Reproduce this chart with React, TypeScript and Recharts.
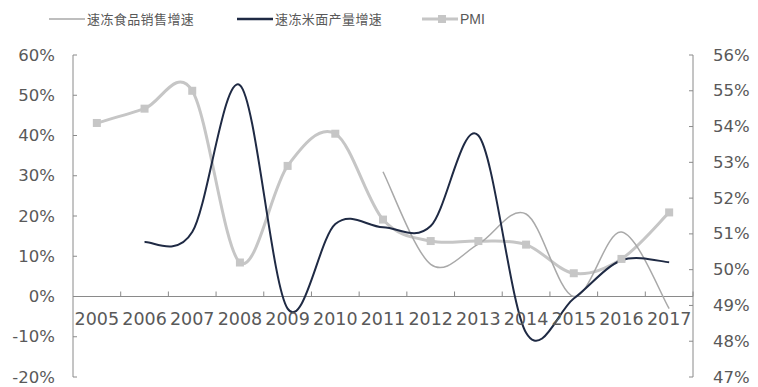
import React from 'react';
import { ComposedChart, Line, XAxis, YAxis, ReferenceLine } from 'recharts';

// data
const years = ['2005', '2006', '2007', '2008', '2009', '2010', '2011', '2012', '2013', '2014', '2015', '2016', '2017'];
const salesGrowth = [null, null, null, null, null, null, 31, 8, 13, 20.5, 0, 16, -3];
const outputGrowth = [null, 13.5, 16, 52.5, -3, 18, 17.2, 17.5, 40, -9, -0.5, 9, 8.5];
const pmi = [54.1, 54.5, 55.0, 50.2, 52.9, 53.8, 51.4, 50.8, 50.8, 50.7, 49.9, 50.3, 51.6];
const leftTicks = [-20, -10, 0, 10, 20, 30, 40, 50, 60];
const rightTicks = [47, 48, 49, 50, 51, 52, 53, 54, 55, 56];
const seriesNames = ['速冻食品销售增速', '速冻米面产量增速', 'PMI'];

const W = 758;
const H = 387;
const M_TOP = 55;
const X_AXIS_H = 10;
const LEFT_W = 73;
const RIGHT_W = 65;
const PLOT_W = W - LEFT_W - RIGHT_W;
const PLOT_H = H - M_TOP - X_AXIS_H;
const LEFT_MIN = leftTicks[0];
const LEFT_MAX = leftTicks[leftTicks.length - 1];
const ZERO_OFFSET = (PLOT_H * (0 - LEFT_MIN)) / (LEFT_MAX - LEFT_MIN);
const BAND = PLOT_W / years.length;

const AXIS = '#8a8a8a';
const TEXT = '#595959';
const SALES = '#a9a9a9';
const OUTPUT = '#1f2a44';
const PMI_C = '#c6c6c6';

const data = years.map((year, i) => ({
  year,
  sales: salesGrowth[i],
  output: outputGrowth[i],
  pmi: pmi[i],
}));

// Excel-like smoothed line (Catmull-Rom through the points)
const smoothCurve = (ctx: any) => {
  let pts: number[][] = [];
  return {
    areaStart() {},
    areaEnd() {},
    lineStart() {
      pts = [];
    },
    point(x: number, y: number) {
      pts.push([+x, +y]);
    },
    lineEnd() {
      if (!pts.length) return;
      ctx.moveTo(pts[0][0], pts[0][1]);
      for (let i = 0; i < pts.length - 1; i++) {
        const p0 = pts[Math.max(i - 1, 0)];
        const p1 = pts[i];
        const p2 = pts[i + 1];
        const p3 = pts[Math.min(i + 2, pts.length - 1)];
        ctx.bezierCurveTo(
          p1[0] + (p2[0] - p0[0]) / 6,
          p1[1] + (p2[1] - p0[1]) / 6,
          p2[0] - (p3[0] - p1[0]) / 6,
          p2[1] - (p3[1] - p1[1]) / 6,
          p2[0],
          p2[1]
        );
      }
    },
  };
};

const LeftTick = ({ x, y, payload }: any) => (
  <g>
    <line x1={x} x2={x + 4} y1={y} y2={y} stroke={AXIS} />
    <text x={x - 18} y={y} textAnchor="end" dominantBaseline="central" fontSize={16.5} fontFamily="DejaVu Sans" fill={TEXT}>
      {payload.value}%
    </text>
  </g>
);

const RightTick = ({ x, y, payload }: any) => (
  <g>
    <line x1={x - 4} x2={x} y1={y} y2={y} stroke={AXIS} />
    <text x={x + 20} y={y} textAnchor="start" dominantBaseline="central" fontSize={16.5} fontFamily="DejaVu Sans" fill={TEXT}>
      {payload.value}%
    </text>
  </g>
);

const YearTick = ({ x, y, payload }: any) => {
  const zeroY = y - ZERO_OFFSET;
  return (
    <g>
      <line x1={x + BAND / 2} x2={x + BAND / 2} y1={zeroY} y2={zeroY - 5} stroke={AXIS} />
      <text x={x} y={zeroY + 22} textAnchor="middle" dominantBaseline="central" fontSize={17.5} fontFamily="DejaVu Sans" fill={TEXT}>
        {payload.value}
      </text>
    </g>
  );
};

const SquareDot = (props: any) => {
  const { cx, cy, index } = props;
  if (cx == null || cy == null) return <g key={`d${index}`} />;
  return <rect key={`d${index}`} x={cx - 4} y={cy - 4} width={8} height={8} fill={PMI_C} />;
};

const LEGEND_X = [49, 237, 422];

const Legend = () => (
  <div style={{ position: 'absolute', left: 0, top: 9, width: W, height: 20 }}>
    {seriesNames.map((name, i) => (
      <div
        key={name}
        style={{ position: 'absolute', left: LEGEND_X[i], top: 0, height: 20, display: 'flex', alignItems: 'center' }}
      >
        <svg width={36} height={20} style={{ display: 'block' }}>
          <line
            x1={0}
            x2={36}
            y1={10}
            y2={10}
            stroke={i === 0 ? SALES : i === 1 ? OUTPUT : PMI_C}
            strokeWidth={i === 0 ? 1.5 : i === 1 ? 2.5 : 3}
          />
          {i === 2 && <rect x={16} y={6} width={8} height={8} fill={PMI_C} />}
        </svg>
        <span
          style={{
            marginLeft: 2,
            fontSize: i === 2 ? 14 : 13,
            letterSpacing: i === 2 ? 0 : 0.4,
            fontFamily: i === 2 ? 'Liberation Sans' : '"Noto Sans CJK SC"',
            color: TEXT,
            lineHeight: '20px',
            whiteSpace: 'nowrap',
          }}
        >
          {name}
        </span>
      </div>
    ))}
  </div>
);

export default function App() {
  return (
    <div style={{ position: 'absolute', left: 0, top: 0, width: W, height: H, background: '#fff' }}>
      <Legend />
      <ComposedChart width={W} height={H} data={data} margin={{ top: M_TOP, right: 0, bottom: 0, left: 0 }}>
        <XAxis
          dataKey="year"
          scale="band"
          height={X_AXIS_H}
          axisLine={false}
          tickLine={false}
          tickSize={0}
          tickMargin={0}
          interval={0}
          tick={<YearTick />}
        />
        <YAxis
          yAxisId="left"
          orientation="left"
          width={LEFT_W}
          domain={[LEFT_MIN, LEFT_MAX]}
          ticks={leftTicks}
          axisLine={{ stroke: AXIS }}
          tickLine={false}
          tickSize={0}
          tickMargin={0}
          tick={<LeftTick />}
        />
        <YAxis
          yAxisId="right"
          orientation="right"
          width={RIGHT_W}
          domain={[rightTicks[0], rightTicks[rightTicks.length - 1]]}
          ticks={rightTicks}
          axisLine={{ stroke: AXIS }}
          tickLine={false}
          tickSize={0}
          tickMargin={0}
          tick={<RightTick />}
        />
        <ReferenceLine yAxisId="left" y={0} stroke={AXIS} />
        <Line
          yAxisId="right"
          dataKey="pmi"
          name={seriesNames[2]}
          type={smoothCurve as any}
          stroke={PMI_C}
          strokeWidth={3}
          dot={SquareDot}
          activeDot={false}
          isAnimationActive={false}
        />
        <Line
          yAxisId="left"
          dataKey="sales"
          name={seriesNames[0]}
          type={smoothCurve as any}
          stroke={SALES}
          strokeWidth={1.5}
          dot={false}
          activeDot={false}
          isAnimationActive={false}
        />
        <Line
          yAxisId="left"
          dataKey="output"
          name={seriesNames[1]}
          type={smoothCurve as any}
          stroke={OUTPUT}
          strokeWidth={2}
          dot={false}
          activeDot={false}
          isAnimationActive={false}
        />
      </ComposedChart>
    </div>
  );
}
